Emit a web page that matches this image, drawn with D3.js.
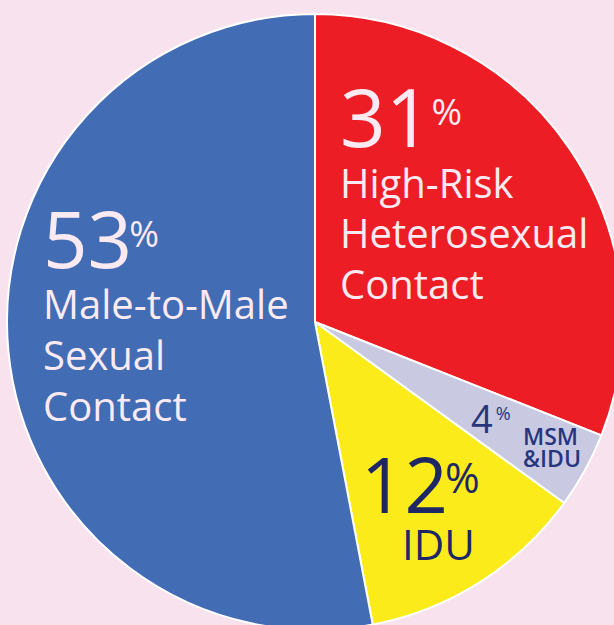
<!DOCTYPE html>
<html>
<head>
<meta charset="utf-8">
<script src="https://cdn.jsdelivr.net/npm/d3@7"></script>
<style>
  html, body { margin: 0; padding: 0; background: #f8e2ee; }
  svg { display: block; }
  text { font-family: "Open Sans", "Noto Sans", sans-serif; }
</style>
</head>
<body>
<svg id="chart"></svg>
<script>
// slices, clockwise from 12 o'clock
var categories = ["High-Risk Heterosexual Contact", "MSM & IDU", "IDU", "Male-to-Male Sexual Contact"];
var values = [31, 4, 12, 53];
var labelLines = [
  ["High-Risk", "Heterosexual", "Contact"],
  ["MSM", "&IDU"],
  ["IDU"],
  ["Male-to-Male", "Sexual", "Contact"]
];

var width = 614;
var height = 625;
var cx = 315, cy = 322;
var radius = 308;

var color = d3.scaleOrdinal()
  .domain(categories)
  .range(["#ec1d25", "#c9cae2", "#fbeb1b", "#426cb4"]);

// label placement for each slice (relative to the pie centre)
var labelLayout = {
  "High-Risk Heterosexual Contact": { x: 25, y: -175, num: 80, pct: 37, pdx: 0, pdy: -22, size: 40, lh: 50.5, fill: "#fbeaf2", weight: 400 },
  "MSM & IDU": { x: 156, y: 111, num: 38, pct: 18, pdx: 3, pdy: -13, size: 23, lh: 22, fill: "#27357f", weight: 600, sx: 208, sy: 123 },
  "IDU": { x: 46, y: 191, num: 76, pct: 42, pdx: -3, pdy: -20, size: 42, lh: 47, fill: "#1d2766", weight: 400, tx: 87 },
  "Male-to-Male Sexual Contact": { x: -272, y: -54, num: 78, pct: 36, pdx: -3, pdy: -21, size: 40, lh: 51, fill: "#fbeaf2", weight: 400 }
};

var svg = d3.select("#chart")
  .attr("width", width)
  .attr("height", height);

var g = svg.append("g")
  .attr("transform", "translate(" + cx + "," + cy + ")");

var pie = d3.pie()
  .sort(null)
  .value(function(d){ return d; });

var arc = d3.arc()
  .innerRadius(0)
  .outerRadius(radius);

var arcs = pie(values);

g.selectAll(".slice")
  .data(arcs)
  .enter().append("path")
  .attr("class", "slice")
  .attr("d", arc)
  .attr("fill", function(d, i){ return color(categories[i]); })
  .attr("stroke", "#ffffff")
  .attr("stroke-width", 2)
  .attr("stroke-linejoin", "round");

var labels = g.selectAll(".label")
  .data(arcs)
  .enter().append("g")
  .attr("class", "label");

labels.each(function(d, i){
  var L = labelLayout[categories[i]];
  var sel = d3.select(this);

  var num = sel.append("text")
    .attr("x", L.x)
    .attr("y", L.y)
    .attr("fill", L.fill)
    .style("font-size", L.num + "px")
    .text(values[i]);
  num.append("tspan")
    .attr("dx", L.pdx)
    .attr("dy", L.pdy)
    .style("font-size", L.pct + "px")
    .text("%");

  var sx = L.sx !== undefined ? L.sx : (L.tx !== undefined ? L.tx : L.x);
  var sy = L.sy !== undefined ? L.sy : L.y + L.lh;
  labelLines[i].forEach(function(line, j){
    sel.append("text")
      .attr("x", sx)
      .attr("y", sy + j * L.lh)
      .attr("fill", L.fill)
      .style("font-size", L.size + "px")
      .style("font-weight", L.weight)
      .text(line);
  });
});
</script>
</body>
</html>
